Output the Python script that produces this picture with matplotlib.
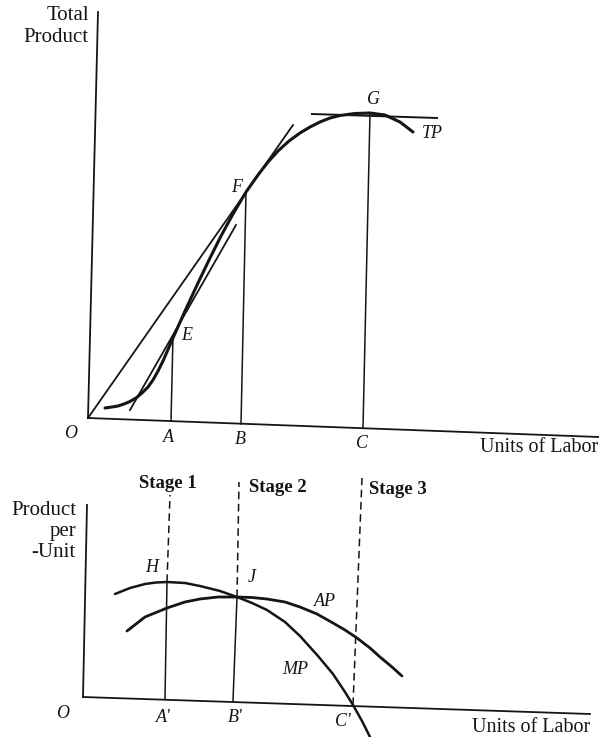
import matplotlib
matplotlib.use("Agg")
from matplotlib import pyplot as plt

# top panel: total product (units ~ 10 px, origin at O)
tp_x = [1.7, 2.4, 3.0, 3.6, 4.2, 4.8, 5.4, 6.0, 6.5, 7.0, 7.5, 8.5, 9.7, 11.0, 12.2, 13.3, 14.5, 15.8,
        17.0, 18.0, 19.0, 20.1, 21.2, 22.2, 23.2, 24.2, 25.2, 26.7, 28.2, 29.7, 31.2, 32.5]
tp_y = [1.0, 1.1, 1.2, 1.4, 1.65, 2.0, 2.5, 3.1, 3.8, 4.7, 5.7, 8.0, 10.7, 13.5, 16.0, 18.2, 20.4, 22.6,
        24.3, 25.6, 26.7, 27.7, 28.5, 29.1, 29.6, 30.0, 30.25, 30.45, 30.5, 30.3, 29.6, 28.6]
ray_x, ray_y = [0.0, 20.5], [0.0, 29.3]          # ray from O, tangent at F
tanE_x, tanE_y = [4.2, 14.8], [0.8, 19.3]        # tangent at E
tanG_x, tanG_y = [22.4, 34.9], [30.4, 30.0]      # tangent at G
top_drops = {"A": ([8.3, 8.5], [-0.3, 8.2]),
             "B": ([15.3, 15.8], [-0.6, 22.6]),
             "C": ([27.5, 28.2], [-1.0, 30.5])}
top_xaxis = ([0.0, 51.1], [0.0, -1.9])
top_yaxis = ([0.0, 1.0], [0.0, 40.6])

# bottom panel: marginal and average product
mp_x = [3.2, 4.7, 6.2, 7.3, 8.4, 10.2, 11.7, 13.7, 15.4, 16.9, 18.4, 20.2, 21.7, 23.5, 25.0, 26.2, 27.0, 27.9, 28.7]
mp_y = [10.6, 11.2, 11.6, 11.75, 11.8, 11.7, 11.4, 10.9, 10.3, 9.7, 9.0, 7.8, 6.4, 4.4, 2.6, 0.8, -0.5, -2.1, -3.7]
ap_x = [4.4, 6.2, 8.4, 10.2, 11.7, 13.5, 15.4, 16.9, 18.4, 20.2, 21.7, 23.4, 25.0, 26.2, 27.4, 28.7, 29.7, 30.9, 31.9]
ap_y = [6.9, 8.3, 9.2, 9.8, 10.1, 10.3, 10.3, 10.25, 10.1, 9.8, 9.3, 8.6, 7.7, 7.0, 6.2, 5.2, 4.3, 3.3, 2.4]
bot_solid = [([8.2, 8.4], [0.1, 11.8]), ([15.0, 15.4], [-0.1, 10.3])]
bot_dashed = [([8.4, 8.7], [11.8, 20.5]), ([15.4, 15.6], [10.3, 21.8]), ([27.0, 27.9], [-0.5, 22.2])]
bot_xaxis = ([0.0, 50.7], [0.3, -1.4])
bot_yaxis = ([0.0, 0.4], [0.3, 19.5])

ink = "#151515"
serif = "Liberation Serif"

fig = plt.figure(figsize=(5.99, 7.37), dpi=100)
fig.patch.set_facecolor("white")

ax1 = fig.add_axes([0, 267 / 737, 1, 470 / 737])
ax1.set_xlim(-8.8, 51.1)
ax1.set_ylim(-5.2, 41.8)
ax1.axis("off")

ax2 = fig.add_axes([0, 0, 1, 267 / 737])
ax2.set_xlim(-8.3, 51.6)
ax2.set_ylim(-3.7, 23.0)
ax2.axis("off")

# --- top panel
ax1.plot(*top_xaxis, color=ink, lw=1.3, clip_on=False)
ax1.plot(*top_yaxis, color=ink, lw=1.3, clip_on=False)
for k, (xs, ys) in top_drops.items():
    ax1.plot(xs, ys, color=ink, lw=1.1)
ax1.plot(ray_x, ray_y, color=ink, lw=1.3)
ax1.plot(tanE_x, tanE_y, color=ink, lw=1.3)
ax1.plot(tanG_x, tanG_y, color=ink, lw=1.4)
ax1.plot(tp_x, tp_y, color=ink, lw=2.2, solid_capstyle="round")

it = dict(family=serif, style="italic", fontsize=13, color=ink, ha="center", va="center")
ax1.text(-1.7, -1.6, "O", **it)
ax1.text(8.0, -2.0, "A", **it)
ax1.text(15.2, -2.2, "B", **it)
ax1.text(27.4, -2.5, "C", **it)
ax1.text(9.9, 8.3, "E", **it)
ax1.text(14.9, 23.0, "F", **it)
ax1.text(28.5, 31.8, "G", **it)
ax1.text(34.4, 28.5, "TP", **it)
ax1.text(51.0, -2.9, "Units of Labor", family=serif, fontsize=14.5, color=ink, ha="right", va="center")
ax1.text(0.1, 40.3, "Total", family=serif, fontsize=15, color=ink, ha="right", va="center")
ax1.text(0.1, 38.1, "Product", family=serif, fontsize=15, color=ink, ha="right", va="center")

# --- bottom panel
ax2.plot(*bot_xaxis, color=ink, lw=1.3, clip_on=False)
ax2.plot(*bot_yaxis, color=ink, lw=1.3, clip_on=False)
for xs, ys in bot_solid:
    ax2.plot(xs, ys, color=ink, lw=1.1)
for xs, ys in bot_dashed:
    ax2.plot(xs, ys, color=ink, lw=1.1, linestyle=(0, (5, 3)))
ax2.plot(ap_x, ap_y, color=ink, lw=2.0, solid_capstyle="round")
ax2.plot(mp_x, mp_y, color=ink, lw=1.8, solid_capstyle="round", clip_on=False)

ax2.text(-2.0, -1.3, "O", **it)
ax2.text(8.0, -1.7, "A'", **it)
ax2.text(15.2, -1.8, "B'", **it)
ax2.text(26.0, -2.2, "C'", **it)
ax2.text(6.9, 13.3, "H", **it)
ax2.text(16.9, 12.2, "J", **it)
ax2.text(24.2, 9.8, "AP", **it)
ax2.text(21.2, 3.0, "MP", **it)
ax2.text(50.7, -2.7, "Units of Labor", family=serif, fontsize=14.5, color=ink, ha="right", va="center")

bd = dict(family=serif, weight="bold", fontsize=13.5, color=ink, va="center")
ax2.text(8.5, 21.7, "Stage 1", ha="center", **bd)
ax2.text(16.6, 21.3, "Stage 2", ha="left", **bd)
ax2.text(28.6, 21.0, "Stage 3", ha="left", **bd)

lab = dict(family=serif, fontsize=15, color=ink, ha="right", va="baseline")
ax2.text(-0.7, 18.5, "Product", **lab)
ax2.text(-0.7, 16.4, "per", **lab)
ax2.text(-0.7, 14.3, "-Unit", **lab)

plt.savefig("out.png", dpi=100)
